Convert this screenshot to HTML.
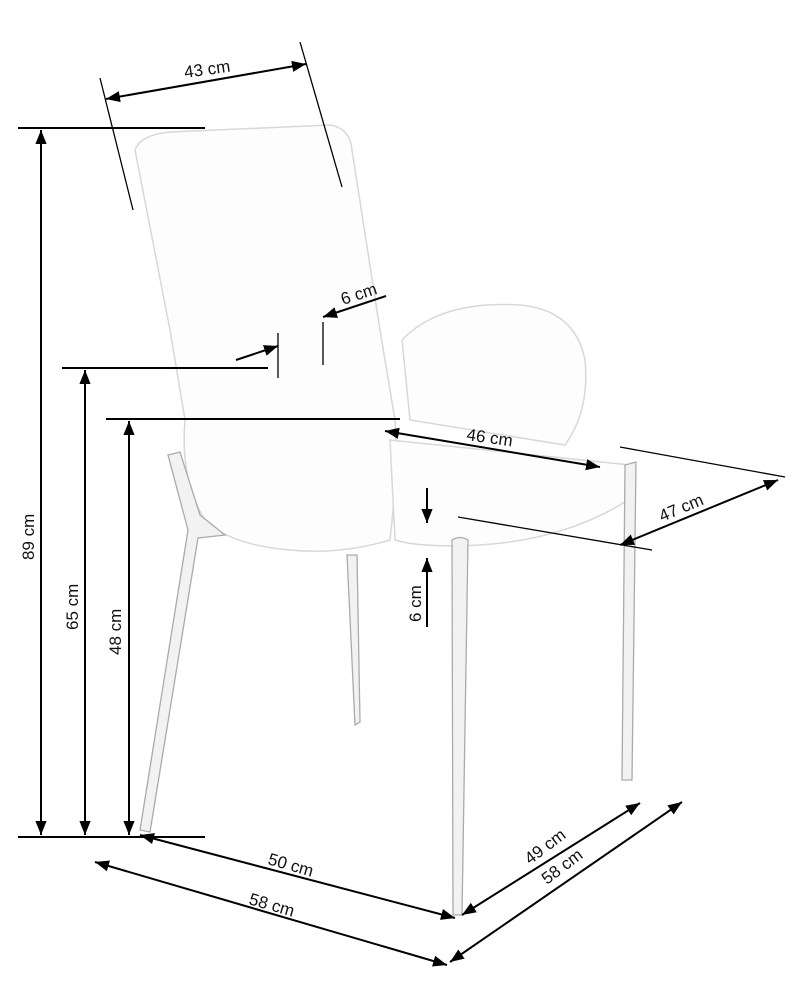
<!DOCTYPE html>
<html><head><style>html,body{margin:0;padding:0;background:#fff}svg{display:block}text{font-family:"Liberation Sans",sans-serif;font-size:17px;fill:#111}</style></head>
<body>
<svg width="800" height="1000" viewBox="0 0 800 1000" xmlns="http://www.w3.org/2000/svg">
<defs>
<marker id="a" viewBox="0 0 10 10" refX="10" refY="5" markerWidth="14" markerHeight="14" markerUnits="userSpaceOnUse" orient="auto-start-reverse"><path d="M0,1 L10,5 L0,9 z" fill="#000"/></marker>
</defs>
<g fill="#fdfdfd" stroke="#d8d8d8" stroke-width="1.5">
<path d="M135,150 Q140,135 170,132 L330,125 Q350,128 352,150 L380,330 L395,420 Q398,470 390,540 Q340,555 290,550 Q230,545 205,520 Q180,480 185,420 L170,330 Z"/>
<path d="M402,340 Q440,300 520,305 Q575,310 585,360 Q590,410 565,445 L410,420 Z"/>
<path d="M390,440 L630,465 Q645,490 620,505 Q560,540 480,545 Q420,548 395,540 Z"/>
</g>
<g fill="#f2f2f2" stroke="#aaa" stroke-width="1.3">
<path d="M168,455 L180,452 L200,515 L225,535 L198,538 L150,832 L140,830 L188,530 Z"/>
<path d="M452,540 Q460,535 468,540 L462,915 L453,915 Z"/>
<path d="M625,465 L636,462 L632,780 L622,780 Z"/>
<path d="M347,555 L357,555 L360,722 L355,725 Z"/>
</g>
<g stroke="#000" stroke-width="2" fill="none">
<line x1="18" y1="128" x2="205" y2="128"/>
<line x1="62" y1="368" x2="268" y2="368"/>
<line x1="106" y1="419" x2="400" y2="419"/>
<line x1="18" y1="837" x2="205" y2="837"/>
<line x1="41" y1="130" x2="41" y2="835" marker-start="url(#a)" marker-end="url(#a)"/>
<line x1="85" y1="370" x2="85" y2="835" marker-start="url(#a)" marker-end="url(#a)"/>
<line x1="129" y1="421" x2="129" y2="835" marker-start="url(#a)" marker-end="url(#a)"/>
<line x1="106" y1="99" x2="306" y2="64" marker-start="url(#a)" marker-end="url(#a)"/>
<line x1="236" y1="360" x2="278" y2="346" marker-end="url(#a)"/>
<line x1="386" y1="296" x2="323" y2="317" marker-end="url(#a)"/>
<line x1="385" y1="431" x2="600" y2="467" marker-start="url(#a)" marker-end="url(#a)"/>
<line x1="778" y1="480" x2="620" y2="545" marker-start="url(#a)" marker-end="url(#a)"/>
<line x1="427" y1="488" x2="427" y2="523" marker-end="url(#a)"/>
<line x1="427" y1="627" x2="427" y2="558" marker-end="url(#a)"/>
<line x1="140" y1="835" x2="455" y2="918" marker-start="url(#a)" marker-end="url(#a)"/>
<line x1="95" y1="862" x2="447" y2="965" marker-start="url(#a)" marker-end="url(#a)"/>
<line x1="462" y1="915" x2="640" y2="803" marker-start="url(#a)" marker-end="url(#a)"/>
<line x1="450" y1="962" x2="682" y2="802" marker-start="url(#a)" marker-end="url(#a)"/>
</g>
<g stroke="#000" stroke-width="1.3">
<line x1="100" y1="78" x2="133" y2="210"/>
<line x1="300" y1="42" x2="342" y2="187"/>
<line x1="278" y1="333" x2="278" y2="378"/>
<line x1="323" y1="322" x2="323" y2="365"/>
<line x1="620" y1="447" x2="785" y2="477"/>
<line x1="458" y1="517" x2="652" y2="550"/>
</g>
<text transform="translate(185,78) rotate(-8)">43 cm</text>
<text transform="translate(343,305) rotate(-18)">6 cm</text>
<text transform="translate(466,440) rotate(8)">46 cm</text>
<text transform="translate(662,522) rotate(-23)">47 cm</text>
<text transform="translate(34,560) rotate(-90)">89 cm</text>
<text transform="translate(78,630) rotate(-90)">65 cm</text>
<text transform="translate(121,655) rotate(-90)">48 cm</text>
<text transform="translate(421,622) rotate(-90)">6 cm</text>
<text transform="translate(267,864) rotate(16)">50 cm</text>
<text transform="translate(248,904) rotate(16)">58 cm</text>
<text transform="translate(530,865) rotate(-37)">49 cm</text>
<text transform="translate(547,885) rotate(-37)">58 cm</text>
</svg>
</body></html>
